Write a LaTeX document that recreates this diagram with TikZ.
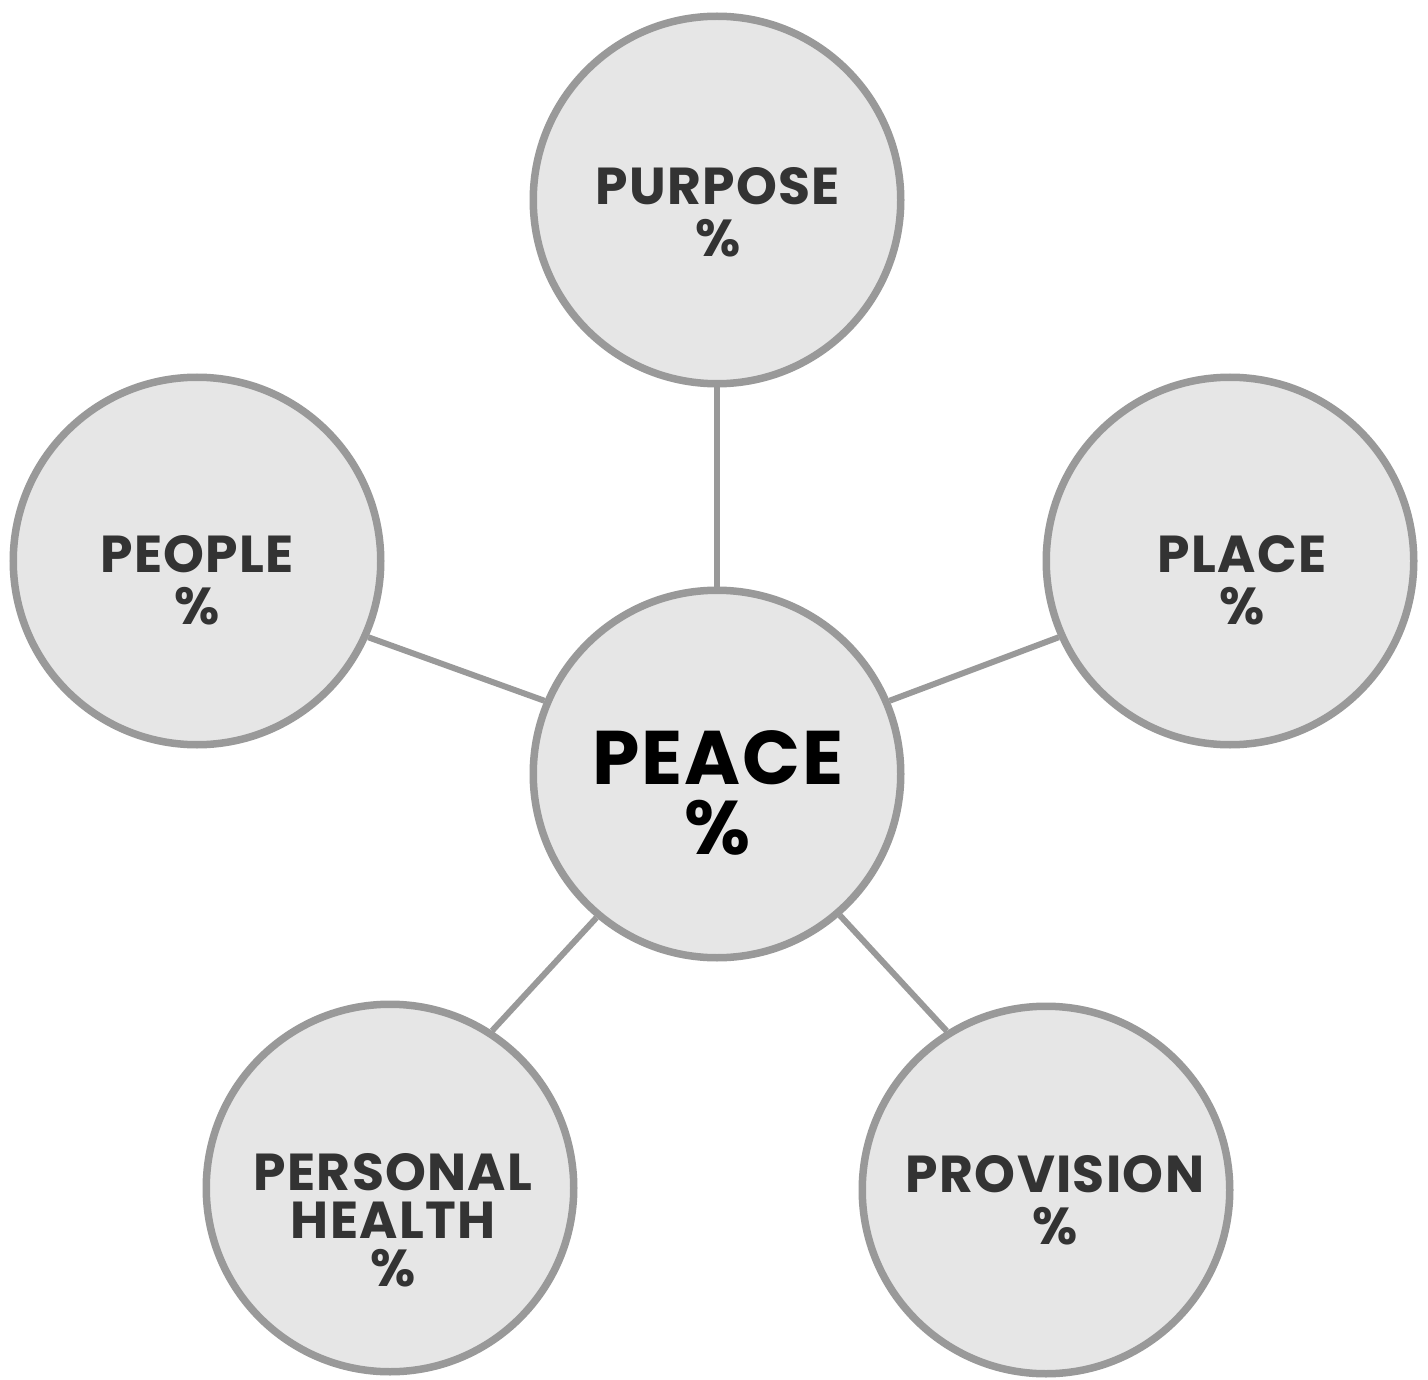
\documentclass[tikz,border=0pt]{standalone}
\usepackage{fontspec}
\setmainfont{Poppins}[LetterSpace=2.5]
\definecolor{ringgray}{HTML}{999999}
\definecolor{discfill}{HTML}{E6E6E6}
\definecolor{labelgray}{HTML}{333333}
\begin{document}
\begin{tikzpicture}[x=1pt,y=-1pt,
  disc/.style={circle,draw=ringgray,fill=discfill,line width=7.5pt,inner sep=0pt,minimum size=367.5pt},
  link/.style={draw=ringgray,line width=6pt},
  lbl/.style={align=center,text=labelgray,font=\fontsize{52}{52}\selectfont\bfseries},
  hub/.style={align=center,text=black,font=\fontsize{76}{70}\selectfont\bfseries}]
\useasboundingbox (0,0) rectangle (1428,1380);
% circles
\node[disc] (peace) at (717,774) {};
\node[disc] (purpose) at (717,200) {};
\node[disc] (people) at (197,561) {};
\node[disc] (place) at (1230,561) {};
\node[disc] (health) at (390,1188) {};
\node[disc] (provision) at (1046,1190) {};
% spokes
\draw[link] (peace.90) -- (purpose.-90);
\draw[link] (peace.157) -- (people.-24);
\draw[link] (peace.23) -- (place.204);
\draw[link] (peace.-130) -- (health.57);
\draw[link] (peace.-49) -- (provision.122);
% labels
\node[hub] (tpeace) at (718,793) {PEACE\\\%};
\node[lbl] (tpurpose) at (718,212) {PURPOSE\\\%};
\node[lbl] (tpeople) at (197,580) {PEOPLE\\\%};
\node[lbl] (tplace) at (1242,580) {PLACE\\\%};
\node[lbl,font=\fontsize{52}{48}\selectfont\bfseries] (thealth) at (393,1220) {PERSONAL\\HEALTH\\\%};
\node[lbl] (tprovision) at (1055,1200) {PROVISION\\\%};
\end{tikzpicture}
\end{document}
